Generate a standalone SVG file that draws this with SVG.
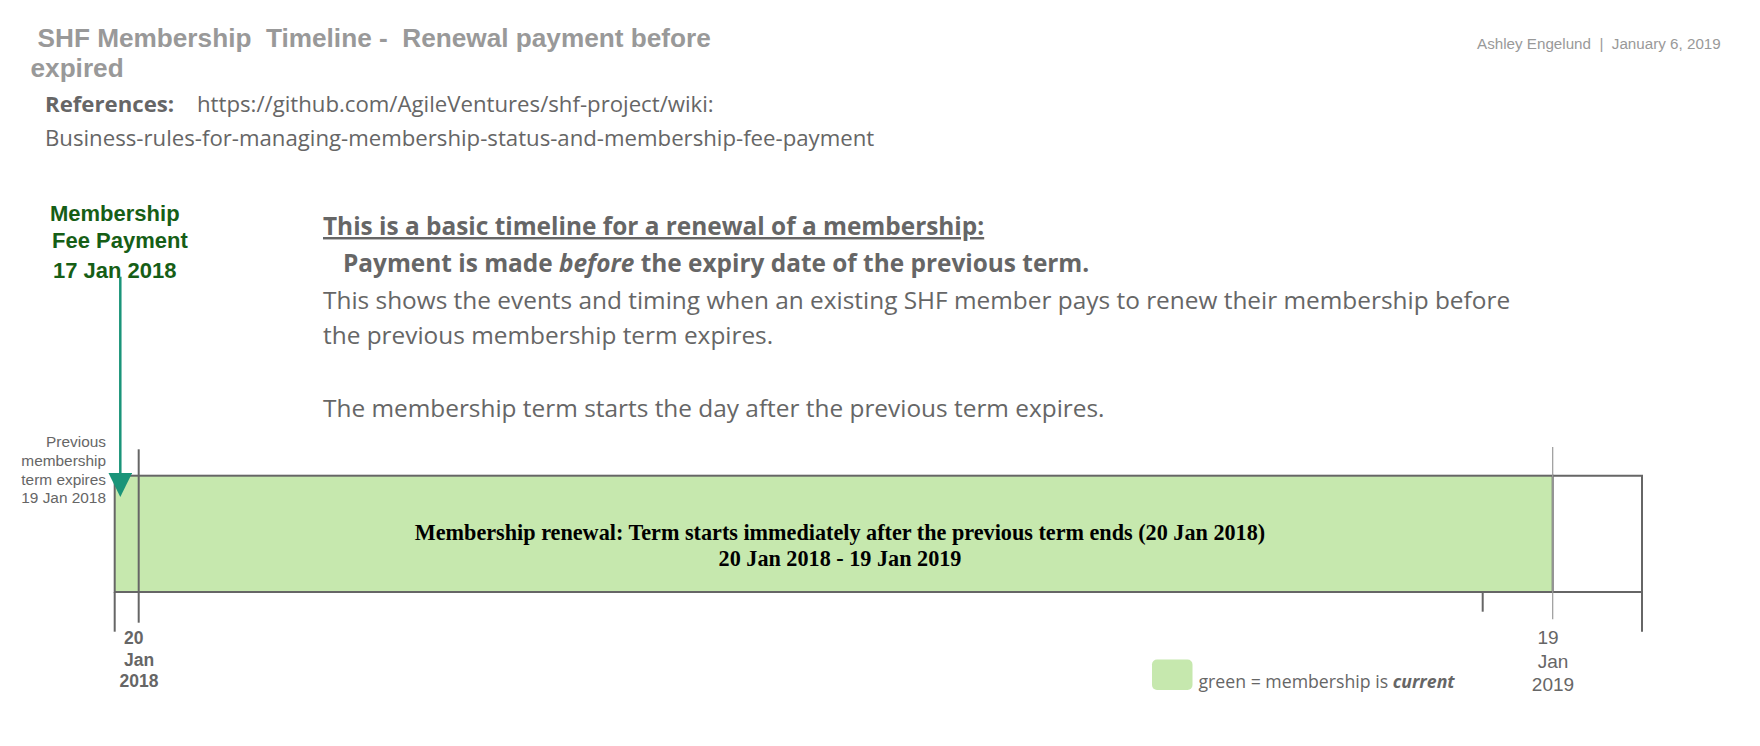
<svg xmlns="http://www.w3.org/2000/svg" width="1760" height="746" viewBox="0 0 1760 746">
<style>
.title{font-family:"Liberation Sans",Arial,sans-serif;font-weight:bold;font-size:26.2px;fill:#999}
.author{font-family:"Liberation Sans",Arial,sans-serif;font-size:15.2px;fill:#999}
.ref{font-family:"Open Sans",sans-serif;font-size:22.2px;fill:#666}
.para{font-family:"Open Sans",sans-serif;font-size:24.4px;fill:#666}
.pay{font-family:"Liberation Sans",Arial,sans-serif;font-weight:bold;font-size:22px;fill:#165e16}
.side{font-family:"Liberation Sans",Arial,sans-serif;font-size:15.4px;fill:#666}
.datebold{font-family:"Liberation Sans",Arial,sans-serif;font-weight:bold;font-size:17.5px;fill:#666}
.date{font-family:"Liberation Sans",Arial,sans-serif;font-size:19px;fill:#666}
.term{font-family:"Liberation Serif","Times New Roman",serif;font-weight:bold;font-size:22.2px;fill:#000}
.legend{font-family:"Open Sans",sans-serif;font-size:17.7px;fill:#666}
.frame{fill:none;stroke:#666;stroke-width:2}
</style>
<defs>
<marker id="tri" viewBox="0 0 24.4 24" refX="7.4" refY="12" markerWidth="24.4" markerHeight="24" markerUnits="userSpaceOnUse" orient="auto">
<path d="M0,0 L24.4,12 L0,24 z" fill="#1a9479"/>
</marker>
</defs>

<g id="header">
<text class="title" x="37.5" y="46.5" xml:space="preserve">SHF Membership  Timeline -  Renewal payment before</text>
<text class="title" x="30.5" y="77">expired</text>
<text class="author" x="1477" y="49" xml:space="preserve">Ashley Engelund  |  January 6, 2019</text>
<text class="ref" x="45" y="112"><tspan font-weight="bold">References:</tspan></text>
<text class="ref" x="197" y="112">https://github.com/AgileVentures/shf-project/wiki:</text>
<text class="ref" x="45" y="146">Business-rules-for-managing-membership-status-and-membership-fee-payment</text>
</g>

<g id="description">
<text class="para" x="323" y="235" font-weight="bold" text-decoration="underline">This is a basic timeline for a renewal of a membership:</text>
<text class="para" x="343" y="271.5" font-weight="bold">Payment is made <tspan font-style="italic">before</tspan> the expiry date of the previous term.</text>
<text class="para" x="323" y="308.5">This shows the events and timing when an existing SHF member pays to renew their membership before</text>
<text class="para" x="323" y="343.5">the previous membership term expires.</text>
<text class="para" x="323" y="417">The membership term starts the day after the previous term expires.</text>
</g>

<g id="payment">
<text class="pay" x="50" y="221">Membership</text>
<text class="pay" x="52" y="248">Fee Payment</text>
<text class="pay" x="53" y="277.5">17 Jan 2018</text>
</g>

<g id="prev-expiry">
<text class="side" text-anchor="end" x="106" y="447">Previous</text>
<text class="side" text-anchor="end" x="106" y="466">membership</text>
<text class="side" text-anchor="end" x="106" y="484.5">term expires</text>
<text class="side" text-anchor="end" x="106" y="503">19 Jan 2018</text>
</g>

<g id="term-bar">
<rect x="114.7" y="475.7" width="1438" height="116.3" fill="#c6e8ae" stroke="#666" stroke-width="2"/>
<path class="frame" d="M114.7,592 V631.7"/>
<path class="frame" d="M1552.7,475.7 H1642 V631.7 M1552.7,592 H1642"/>
<text class="term" text-anchor="middle" x="840" y="540">Membership renewal: Term starts immediately after the previous term ends (20 Jan 2018)</text>
<text class="term" text-anchor="middle" x="840" y="566">20 Jan 2018 - 19 Jan 2019</text>
</g>

<g id="start-marker">
<path d="M138.7,449.3 V622.7" stroke="#666" stroke-width="2" fill="none"/>
<text class="datebold" x="124" y="644">20</text>
<text class="datebold" text-anchor="middle" x="139" y="666">Jan</text>
<text class="datebold" text-anchor="middle" x="139" y="687">2018</text>
</g>

<g id="end-marker">
<path d="M1552.7,447 V619.3" stroke="#999" stroke-width="1.2" fill="none"/>
<path d="M1482.7,592 V611.7" stroke="#666" stroke-width="2" fill="none"/>
<text class="date" text-anchor="middle" x="1548" y="643.5">19</text>
<text class="date" text-anchor="middle" x="1553" y="667.5">Jan</text>
<text class="date" text-anchor="middle" x="1553" y="690.5">2019</text>
</g>

<g id="legend">
<rect x="1152" y="659.5" width="40.5" height="30.5" rx="5" fill="#c6e8ae"/>
<text class="legend" x="1198.5" y="688">green = membership is <tspan font-weight="bold" font-style="italic">current</tspan></text>
</g>

<g id="connectors">
<path d="M120.3,276.7 V480" stroke="#1a9479" stroke-width="2.5" fill="none" marker-end="url(#tri)"/>
</g>
</svg>
